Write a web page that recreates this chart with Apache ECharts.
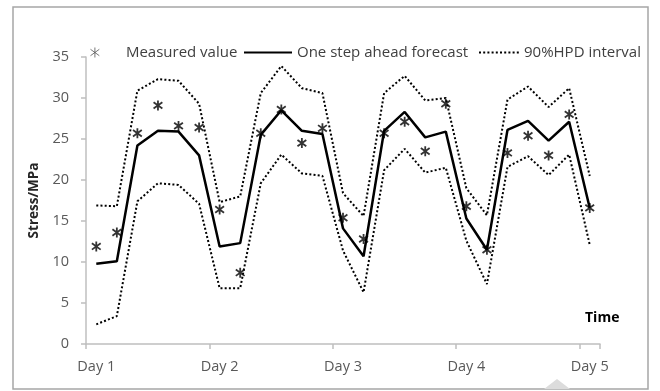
<!DOCTYPE html>
<html>
<head>
<meta charset="utf-8">
<script src="https://cdn.jsdelivr.net/npm/echarts@6/dist/echarts.min.js"></script>
<style>
  html, body { margin: 0; padding: 0; background: #fff; }
  #chart { width: 660px; height: 391px; }
</style>
</head>
<body>
<div id="chart"></div>
<script>
// Day labels on the time axis; six readings per day, one reading on the last day
var days = ['Day 1', 'Day 2', 'Day 3', 'Day 4', 'Day 5'];
var readingsPerDay = [6, 6, 6, 6, 1];

// Stress (MPa)
var measured = [11.9, 13.6, 25.7, 29.1, 26.6, 26.4, 16.4, 8.7, 25.7, 28.6, 24.5, 26.3, 15.4, 12.8, 25.7, 27.1, 23.5, 29.3, 16.8, 11.5, 23.3, 25.4, 23.0, 28.0, 16.6];
var forecast = [9.8, 10.1, 24.2, 26.0, 25.9, 23.0, 11.9, 12.3, 25.5, 28.5, 26.0, 25.6, 14.1, 10.7, 26.0, 28.3, 25.2, 25.9, 15.3, 11.5, 26.1, 27.2, 24.8, 27.1, 16.6];
var hpdUpper = [16.9, 16.8, 30.9, 32.3, 32.1, 29.3, 17.3, 18.0, 30.6, 33.9, 31.2, 30.6, 18.4, 15.6, 30.6, 32.7, 29.7, 30.0, 19.0, 15.7, 29.8, 31.4, 28.9, 31.2, 20.5];
var hpdLower = [2.4, 3.4, 17.4, 19.6, 19.4, 17.1, 6.8, 6.8, 19.6, 23.1, 20.8, 20.5, 11.4, 6.3, 21.2, 23.8, 20.9, 21.5, 12.6, 7.3, 21.6, 22.9, 20.6, 23.1, 12.1];

var yTicks = { min: 0, max: 35, step: 5 };

// One category per reading, e.g. "Day 2|3"
var categories = [];
days.forEach(function (d, i) {
  for (var k = 1; k <= readingsPerDay[i]; k++) categories.push(d + '|' + k);
});

var FONT = '"Open Sans", "Noto Sans", sans-serif';
var asterisk = 'path://M5,0L5,10M0.6,1.8L9.4,8.2M0.6,8.2L9.4,1.8';
var axisGray = '#bfbfbf';
var textGray = '#595959';
var legendText = { fontFamily: FONT, fontSize: 15, color: '#404040' };
// line icons in the legend carry no marker
var noMarker = { color: 'rgba(0,0,0,0)', borderWidth: 0, opacity: 0 };

var chart = echarts.init(document.getElementById('chart'), null, { renderer: 'canvas' });

chart.setOption({
  animation: false,
  backgroundColor: '#fff',
  textStyle: { fontFamily: FONT },
  grid: { left: 86, right: 60, top: 57, bottom: 47, outerBoundsMode: 'none' },
  legend: [
    {
      data: ['Measured value'], left: 85, top: 40,
      itemWidth: 10, itemHeight: 10, symbolKeepAspect: true,
      itemStyle: { color: '#555', borderColor: '#555', borderWidth: 1 },
      textStyle: Object.assign({ padding: [0, 0, 0, 21] }, legendText)
    },
    {
      data: ['One step ahead forecast'], left: 238, top: 40,
      itemWidth: 48, itemHeight: 10,
      itemStyle: noMarker,
      textStyle: legendText
    },
    {
      data: ['90%HPD interval'], left: 473, top: 40,
      itemWidth: 40, itemHeight: 10,
      itemStyle: noMarker,
      textStyle: legendText
    }
  ],
  xAxis: {
    type: 'category',
    data: categories,
    boundaryGap: true,
    axisLine: { lineStyle: { color: axisGray, width: 1.5 } },
    axisTick: { show: true, interval: 5, length: 5, lineStyle: { color: axisGray, width: 1.5 } },
    axisLabel: {
      interval: 5, margin: 15,
      fontFamily: FONT, fontSize: 14.5, color: textGray,
      formatter: function (v) { return v.split('|')[0]; }
    },
    splitLine: { show: false }
  },
  yAxis: {
    type: 'value',
    min: yTicks.min, max: yTicks.max, interval: yTicks.step,
    name: 'Stress/MPa',
    nameLocation: 'middle',
    nameGap: 44,
    nameTextStyle: { fontFamily: FONT, fontSize: 13.5, fontWeight: 'bold', color: '#262626' },
    axisLine: { show: true, lineStyle: { color: axisGray, width: 1.5 } },
    axisTick: { show: true, length: 5, lineStyle: { color: axisGray, width: 1.5 } },
    axisLabel: { margin: 17, fontFamily: FONT, fontSize: 14.5, color: textGray },
    splitLine: { show: false }
  },
  series: [
    {
      name: '90%HPD interval',
      type: 'line',
      data: hpdUpper,
      symbol: 'none',
      lineStyle: { color: '#000', width: 2, type: [2, 2.2], cap: 'butt' },
      itemStyle: { color: '#000' },
      z: 2
    },
    {
      name: '90%HPD interval',
      type: 'line',
      data: hpdLower,
      symbol: 'none',
      lineStyle: { color: '#000', width: 2, type: [2, 2.2], cap: 'butt' },
      itemStyle: { color: '#000' },
      z: 2
    },
    {
      name: 'One step ahead forecast',
      type: 'line',
      data: forecast,
      symbol: 'none',
      lineStyle: { color: '#000', width: 2.5 },
      itemStyle: { color: '#000' },
      z: 3
    },
    {
      name: 'Measured value',
      type: 'scatter',
      data: measured,
      symbol: asterisk,
      symbolSize: 10,
      symbolKeepAspect: true,
      itemStyle: { color: '#000', borderColor: '#000', borderWidth: 1.8 },
      z: 4
    }
  ],
  graphic: [
    {
      type: 'rect', silent: true,
      shape: { x: 13, y: 7, width: 635, height: 382 },
      style: { fill: 'none', stroke: '#a6a6a6', lineWidth: 1.5 }
    },
    {
      type: 'text', silent: true,
      x: 585, y: 318,
      style: {
        text: 'Time', fill: '#000',
        font: 'bold 14px ' + FONT,
        verticalAlign: 'middle'
      }
    },
    {
      type: 'polygon', silent: true,
      shape: { points: [[544, 389], [557, 379], [570, 389]] },
      style: { fill: '#dcdcdc' }
    }
  ]
});
</script>
</body>
</html>
